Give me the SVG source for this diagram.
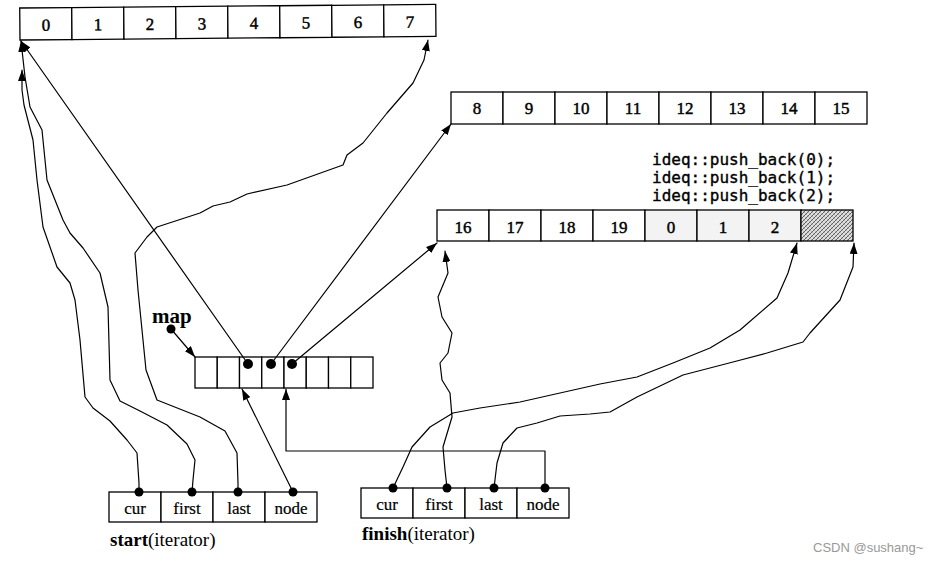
<svg xmlns="http://www.w3.org/2000/svg" width="940" height="564" viewBox="0 0 940 564">
<style>
.cell{fill:#fff;stroke:#000;stroke-width:1.3}
.lite{fill:#f3f3f3;stroke:#000;stroke-width:1.3}
.num{font-family:"Liberation Serif","Times New Roman",serif;font-size:17px;fill:#000;text-anchor:middle;stroke:#000;stroke-width:0.45}
.lbl{font-family:"Liberation Serif","Times New Roman",serif;font-size:17px;fill:#000;text-anchor:middle;stroke:#000;stroke-width:0.2}
.cap{font-family:"Liberation Serif","Times New Roman",serif;font-size:19px;fill:#000}
.code{font-family:"DejaVu Sans Mono","Liberation Mono",monospace;font-size:16px;fill:#000;stroke:#000;stroke-width:0.35}
.ln{fill:none;stroke:#000;stroke-width:1.2;stroke-linejoin:round;stroke-linecap:round}
.arr{marker-end:url(#ah)}
.dot{fill:#000}
</style>
<defs>
<marker id="ah" markerUnits="userSpaceOnUse" markerWidth="11" markerHeight="8" refX="11" refY="4" orient="auto">
<path d="M0,0 L11,4 L0,8 z" fill="#000"/>
</marker>
<pattern id="hatch" patternUnits="userSpaceOnUse" width="4" height="4">
<rect width="4" height="4" fill="#e0e0e0"/>
<path d="M0,4 L4,0 M-1,1 L1,-1 M3,5 L5,3" stroke="#555" stroke-width="0.9"/>
<path d="M0,0 L4,4" stroke="#999" stroke-width="0.5"/>
</pattern>
</defs>
<rect width="940" height="564" fill="#fff"/>

<g id="buffer0" transform="rotate(-0.5 20 40)">
<rect class="cell" x="20" y="8" width="52" height="32"/>
<rect class="cell" x="72" y="8" width="52" height="32"/>
<rect class="cell" x="124" y="8" width="52" height="32"/>
<rect class="cell" x="176" y="8" width="52" height="32"/>
<rect class="cell" x="228" y="8" width="52" height="32"/>
<rect class="cell" x="280" y="8" width="52" height="32"/>
<rect class="cell" x="332" y="8" width="52" height="32"/>
<rect class="cell" x="384" y="8" width="52" height="32"/>
<text class="num" x="46" y="31">0</text>
<text class="num" x="98" y="31">1</text>
<text class="num" x="150" y="31">2</text>
<text class="num" x="202" y="31">3</text>
<text class="num" x="254" y="31">4</text>
<text class="num" x="306" y="31">5</text>
<text class="num" x="358" y="31">6</text>
<text class="num" x="410" y="31">7</text>
</g>

<g id="buffer1">
<rect class="cell" x="451" y="92" width="52" height="32"/>
<rect class="cell" x="503" y="92" width="52" height="32"/>
<rect class="cell" x="555" y="92" width="52" height="32"/>
<rect class="cell" x="607" y="92" width="52" height="32"/>
<rect class="cell" x="659" y="92" width="52" height="32"/>
<rect class="cell" x="711" y="92" width="52" height="32"/>
<rect class="cell" x="763" y="92" width="52" height="32"/>
<rect class="cell" x="815" y="92" width="52" height="32"/>
<text class="num" x="477" y="114">8</text>
<text class="num" x="529" y="114">9</text>
<text class="num" x="581" y="114">10</text>
<text class="num" x="633" y="114">11</text>
<text class="num" x="685" y="114">12</text>
<text class="num" x="737" y="114">13</text>
<text class="num" x="789" y="114">14</text>
<text class="num" x="841" y="114">15</text>
</g>

<g id="code">
<text class="code" x="652" y="165">ideq::push_back(0);</text>
<text class="code" x="652" y="183">ideq::push_back(1);</text>
<text class="code" x="652" y="201">ideq::push_back(2);</text>
</g>

<g id="buffer2">
<rect class="cell" x="437" y="210" width="52" height="31"/>
<rect class="cell" x="489" y="210" width="52" height="31"/>
<rect class="cell" x="541" y="210" width="52" height="31"/>
<rect class="cell" x="593" y="210" width="52" height="31"/>
<rect class="lite" x="645" y="210" width="52" height="31"/>
<rect class="lite" x="697" y="210" width="52" height="31"/>
<rect class="lite" x="749" y="210" width="52" height="31"/>
<rect x="801" y="210" width="52" height="31" fill="url(#hatch)" stroke="#000" stroke-width="1.3"/>
<text class="num" x="463" y="233">16</text>
<text class="num" x="515" y="233">17</text>
<text class="num" x="567" y="233">18</text>
<text class="num" x="619" y="233">19</text>
<text class="num" x="671" y="233">0</text>
<text class="num" x="723" y="233">1</text>
<text class="num" x="775" y="233">2</text>
</g>

<g id="map">
<text class="cap" x="152" y="323" style="font-weight:bold;font-size:21px">map</text>
<rect class="cell" x="195" y="357" width="22.25" height="31"/>
<rect class="cell" x="217.25" y="357" width="22.25" height="31"/>
<rect class="cell" x="239.5" y="357" width="22.25" height="31"/>
<rect class="cell" x="261.75" y="357" width="22.25" height="31"/>
<rect class="cell" x="284" y="357" width="22.25" height="31"/>
<rect class="cell" x="306.25" y="357" width="22.25" height="31"/>
<rect class="cell" x="328.5" y="357" width="22.25" height="31"/>
<rect class="cell" x="350.75" y="357" width="22.25" height="31"/>
</g>

<g id="start">
<rect class="cell" x="109" y="492" width="52" height="30"/>
<rect class="cell" x="161" y="492" width="52" height="30"/>
<rect class="cell" x="213" y="492" width="52" height="30"/>
<rect class="cell" x="265" y="492" width="52" height="30"/>
<text class="lbl" x="135" y="514">cur</text>
<text class="lbl" x="187" y="514">first</text>
<text class="lbl" x="239" y="514">last</text>
<text class="lbl" x="291" y="514">node</text>
<text class="cap" x="110" y="546"><tspan font-weight="bold">start</tspan>(iterator)</text>
</g>

<g id="finish">
<rect class="cell" x="361" y="488" width="52" height="30"/>
<rect class="cell" x="413" y="488" width="52" height="30"/>
<rect class="cell" x="465" y="488" width="52" height="30"/>
<rect class="cell" x="517" y="488" width="52" height="30"/>
<text class="lbl" x="387" y="510">cur</text>
<text class="lbl" x="439" y="510">first</text>
<text class="lbl" x="491" y="510">last</text>
<text class="lbl" x="543" y="510">node</text>
<text class="cap" x="362" y="540"><tspan font-weight="bold">finish</tspan>(iterator)</text>
</g>

<g id="connectors">
<path class="ln arr" d="M171,329 L195,357"/>
<path class="ln arr" d="M248,364 L21,41"/>
<path class="ln arr" d="M271,364 L451,124"/>
<path class="ln arr" d="M292,364 L437,243"/>
<path class="ln arr" d="M293,492 L242,389"/>
<path class="ln arr" d="M545,488 L545,451 L286,451 L286,389"/>
<path class="ln arr" d="M139,492 L139,483 L137,453 L127,440 L110,421 L93,408 L85,397 L80,340 L75,300 L70,283 L57,267 L43,227 L37,180 L33,140 L24,105 L22,90 L22,70"/>
<path class="ln arr" d="M192,492 L193,480 L195,460 L187,444 L167,425 L140,411 L120,401 L110,380 L108,307 L100,273 L83,248 L70,233 L63,220 L47,180 L42,130 L30,107 L25,77 L21,41"/>
<path class="ln arr" d="M238,492 L238,483 L237,453 L225,431 L200,417 L157,400 L146,370 L143,340 L138,290 L135,253 L147,237 L157,227 L200,213 L213,206 L230,202 L247,194 L287,185 L343,165 L347,155 L363,143 L387,113 L413,83 L424,60 L428,40"/>
<path class="ln arr" d="M393,488 L403,467 L412,447 L430,427 L453,413 L480,408 L520,402 L560,393 L600,384 L637,377 L673,363 L710,348 L740,330 L777,298 L788,273 L797,243"/>
<path class="ln arr" d="M447,488 L445,470 L443,447 L452,417 L450,393 L442,380 L440,363 L448,353 L452,333 L442,317 L438,297 L448,273 L445,251"/>
<path class="ln arr" d="M494,488 L497,463 L503,443 L517,428 L537,423 L560,416 L590,414 L610,412 L637,397 L683,375 L733,362 L767,353 L803,342 L810,333 L840,300 L853,267 L854,243"/>
</g>

<g id="dots">
<circle class="dot" cx="171" cy="329" r="4.5"/>
<circle class="dot" cx="248" cy="364" r="5"/>
<circle class="dot" cx="271" cy="364" r="5"/>
<circle class="dot" cx="292" cy="364" r="5"/>
<circle class="dot" cx="139" cy="492" r="4.5"/>
<circle class="dot" cx="192" cy="492" r="4.5"/>
<circle class="dot" cx="238" cy="492" r="4.5"/>
<circle class="dot" cx="293" cy="492" r="4.5"/>
<circle class="dot" cx="393" cy="488" r="4.5"/>
<circle class="dot" cx="447" cy="488" r="4.5"/>
<circle class="dot" cx="494" cy="488" r="4.5"/>
<circle class="dot" cx="545" cy="488" r="4.5"/>
</g>

<text x="813" y="552" font-family="'Liberation Sans','Noto Sans',sans-serif" font-size="13" fill="#999">CSDN @sushang~</text>
</svg>
